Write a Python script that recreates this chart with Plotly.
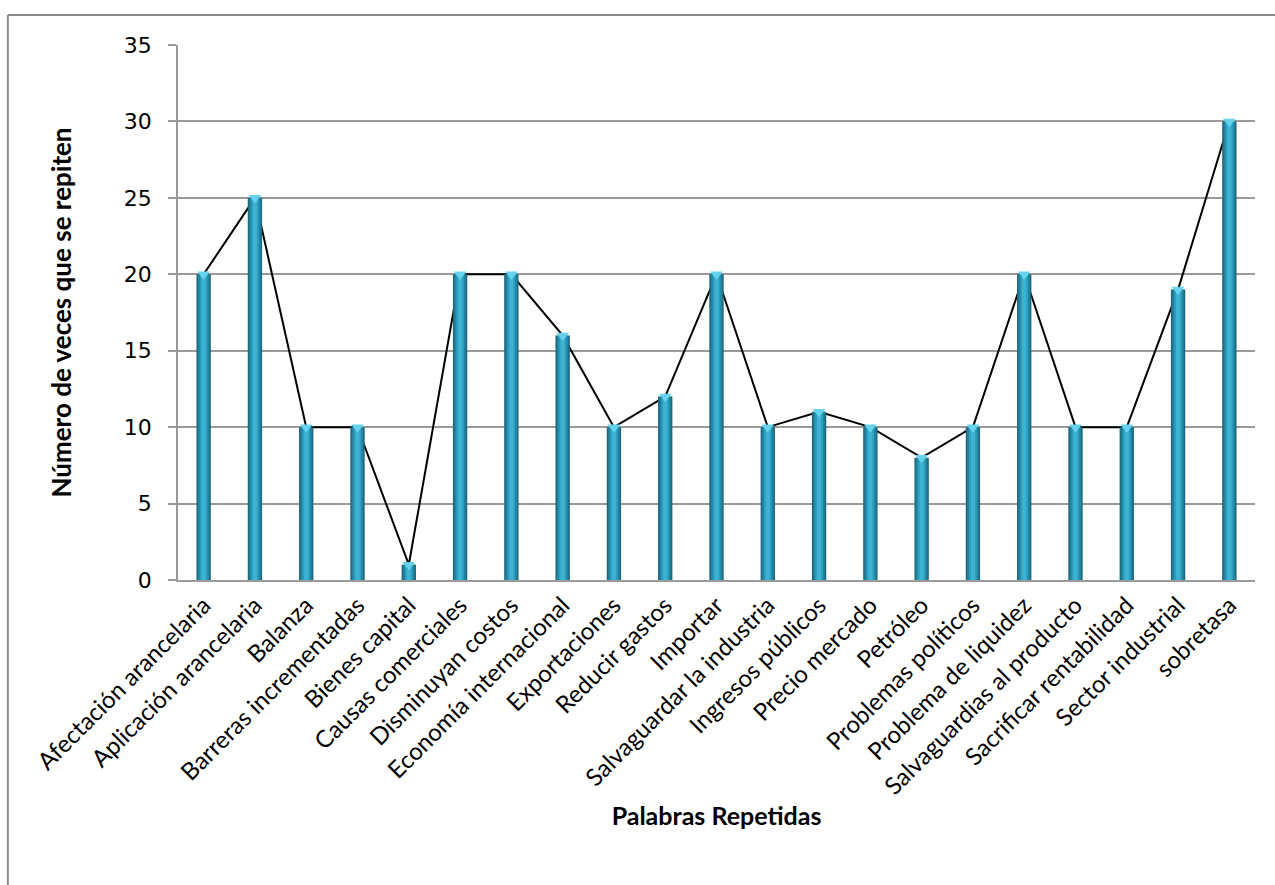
import plotly.graph_objects as go

categorias = [
    "Afectación arancelaria", "Aplicación arancelaria", "Balanza",
    "Barreras incrementadas", "Bienes capital", "Causas comerciales",
    "Disminuyan costos", "Economía internacional", "Exportaciones",
    "Reducir gastos", "Importar", "Salvaguardar la industria",
    "Ingresos públicos", "Precio mercado", "Petróleo",
    "Problemas políticos", "Problema de liquidez", "Salvaguardias al producto",
    "Sacrificar rentabilidad", "Sector industrial", "sobretasa",
]
repeticiones = [20, 25, 10, 10, 1, 20, 20, 16, 10, 12, 20, 10, 11, 10, 8, 10, 20, 10, 10, 19, 30]

y_ticks = [0, 5, 10, 15, 20, 25, 30, 35]

fig = go.Figure()

# connecting line sits on the base subplot so the bars cover it
fig.add_trace(go.Scatter(
    x=categorias, y=repeticiones, mode="lines",
    line=dict(color="black", width=2),
    xaxis="x", yaxis="y", showlegend=False, hoverinfo="skip",
))

# cylinder shading: overlaid bars of decreasing width
capas = [
    (0.28, "#1c6a80"),
    (0.22, "#24839f"),
    (0.15, "#2f9dbd"),
    (0.08, "#3db3d3"),
]
for ancho, color in capas:
    fig.add_trace(go.Bar(
        x=categorias, y=repeticiones, width=ancho,
        marker=dict(color=color, line=dict(width=0)),
        xaxis="x2", yaxis="y", showlegend=False, hoverinfo="skip",
    ))

# light top face of each cylinder
fig.add_trace(go.Scatter(
    x=categorias, y=repeticiones, mode="markers",
    marker=dict(symbol="triangle-down", size=11, color="#66d3ee",
                line=dict(width=0)),
    xaxis="x2", yaxis="y", showlegend=False, hoverinfo="skip",
))

eje_x = dict(
    type="category", categoryorder="array", categoryarray=categorias,
    range=[-0.5, len(categorias) - 0.5],
)

fig.update_layout(
    width=1275, height=885,
    margin=dict(l=178, r=20, t=45, b=305),
    paper_bgcolor="white", plot_bgcolor="white",
    barmode="overlay",
    xaxis=dict(
        **eje_x,
        tickangle=-45,
        tickfont=dict(family="Lato", size=24, color="black"),
        showgrid=False, ticks="",
        showline=True, linecolor="#9a9a9a", linewidth=1.5,
        title=dict(text="<b>Palabras Repetidas</b>",
                   font=dict(family="Lato", size=25, color="black"),
                   standoff=9),
    ),
    xaxis2=dict(**eje_x, overlaying="x", visible=False),
    yaxis=dict(
        range=[0, 35], tickvals=y_ticks,
        tickfont=dict(family="DejaVu Sans", size=22, color="black"),
        ticklabelstandoff=12,
        showgrid=True, gridcolor="#9a9a9a", gridwidth=1.5,
        ticks="outside", ticklen=8, tickcolor="#9a9a9a", tickwidth=1.5,
        showline=True, linecolor="#9a9a9a", linewidth=1.5,
        zeroline=False,
        title=dict(text="<b>Número de veces que se repiten</b>",
                   font=dict(family="Lato", size=26, color="black"),
                   standoff=45),
    ),
    shapes=[
        # outer chart frame (left and top edges)
        dict(type="line", xref="paper", yref="paper",
             x0=-0.158, x1=-0.158, y0=1.056, y1=-0.6,
             line=dict(color="#8a8a8a", width=2)),
        dict(type="line", xref="paper", yref="paper",
             x0=-0.158, x1=1.03, y0=1.056, y1=1.056,
             line=dict(color="#8a8a8a", width=2)),
    ],
)

fig.write_html("out.html")
